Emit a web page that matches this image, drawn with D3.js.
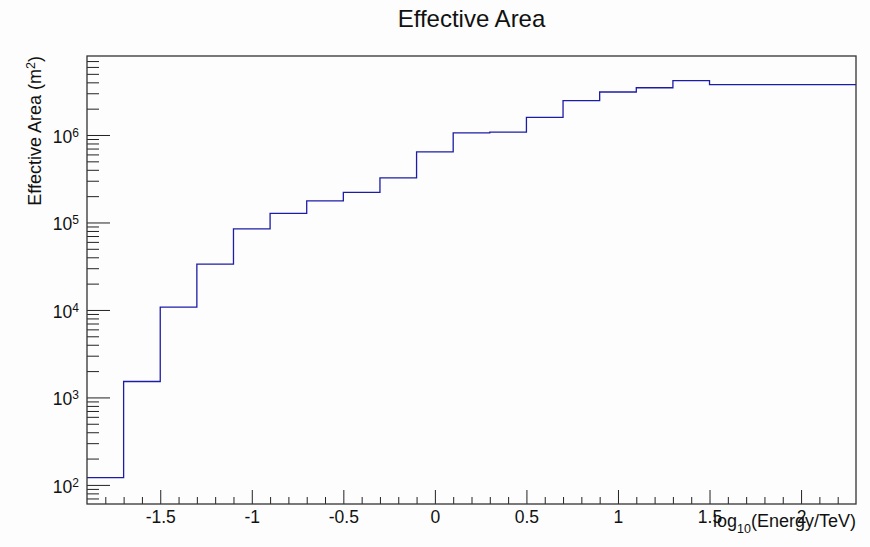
<!DOCTYPE html>
<html>
<head>
<meta charset="utf-8">
<script src="https://cdn.jsdelivr.net/npm/d3@7"></script>
<style>
  body { margin: 0; background: #fdfdfd; }
  svg { display: block; font-family: "Liberation Sans", Arial, Helvetica, sans-serif; }
  .axis path { stroke: none; }
  .axis line { stroke: #222; stroke-width: 1; }
</style>
</head>
<body>
<div id="chart"></div>
<script>
// bin edges in log10(E/TeV)
var binEdges = [-1.9, -1.7, -1.5, -1.3, -1.1, -0.9, -0.7, -0.5, -0.3, -0.1, 0.1,
                0.3, 0.5, 0.7, 0.9, 1.1, 1.3, 1.5, 1.7, 1.9, 2.1, 2.3];
// effective area per bin, m^2
var areaValues = [121, 1520, 10800, 33500, 84300, 127000, 177000, 221000, 323000, 643000,
                  1060000, 1080000, 1590000, 2470000, 3100000, 3470000, 4180000,
                  3760000, 3760000, 3760000, 3760000];
var xMajorTicks = [-1.5, -1, -0.5, 0, 0.5, 1, 1.5, 2];
var xTickLabels = ["-1.5", "-1", "-0.5", "0", "0.5", "1", "1.5", "2"];
var yDecades = [100, 1000, 10000, 100000, 1000000];
var yExponents = ["2", "3", "4", "5", "6"];

var w = 870, h = 547;
var padL = 87, padR = 856, padT = 56, padB = 504;

var svg = d3.select("#chart").append("svg")
  .attr("width", w)
  .attr("height", h);

var x = d3.scaleLinear().domain([-1.9, 2.3]).range([padL, padR]);
var y = d3.scaleLog().domain([60.5, 8.0e6]).range([padB, padT]);

// minor ticks
var xMinor = d3.range(-18, 23).map(function(i) { return i / 10; })
  .filter(function(v) { return xMajorTicks.indexOf(v) < 0; });
var yMinor = [];
[10, 100, 1000, 10000, 100000, 1000000].forEach(function(d) {
  for (var k = 2; k <= 9; k++) {
    var v = d * k;
    if (v > 60.5 && v < 7.9e6) yMinor.push(v);
  }
});

// x axis minor
svg.append("g")
  .attr("class", "axis")
  .attr("transform", "translate(0," + padB + ")")
  .call(d3.axisBottom(x).tickValues(xMinor).tickSize(-7).tickFormat(""));

// x axis major
svg.append("g")
  .attr("class", "axis")
  .attr("transform", "translate(0," + padB + ")")
  .call(d3.axisBottom(x).tickValues(xMajorTicks).tickSize(-14).tickPadding(7)
    .tickFormat(function(d, i) { return xTickLabels[i]; }))
  .selectAll("text")
  .attr("fill", "#111")
  .style("font-size", "17.5px");

// y axis minor
svg.append("g")
  .attr("class", "axis")
  .attr("transform", "translate(" + padL + ",0)")
  .call(d3.axisLeft(y).tickValues(yMinor).tickSize(-12).tickFormat(""));

// y axis major
svg.append("g")
  .attr("class", "axis")
  .attr("transform", "translate(" + padL + ",0)")
  .call(d3.axisLeft(y).tickValues(yDecades).tickSize(-23).tickFormat(""));

// y labels: 10 with superscript
var yLab = svg.append("g").selectAll("text")
  .data(yDecades)
  .enter()
  .append("text")
  .attr("x", 79)
  .attr("y", function(d) { return y(d) + 8; })
  .attr("text-anchor", "end")
  .attr("fill", "#111")
  .style("font-size", "17.5px");
yLab.append("tspan").text("10");
yLab.append("tspan")
  .attr("dy", -6)
  .style("font-size", "12px")
  .text(function(d, i) { return yExponents[i]; });

// histogram step line
var stepPts = [];
areaValues.forEach(function(v, i) {
  stepPts.push([binEdges[i], v]);
  stepPts.push([binEdges[i + 1], v]);
});
svg.append("path")
  .datum(stepPts)
  .attr("fill", "none")
  .attr("stroke", "#1c1ca6")
  .attr("stroke-width", 1.3)
  .attr("d", d3.line()
    .x(function(d) { return x(d[0]); })
    .y(function(d) { return y(d[1]); }));

// frame
svg.append("rect")
  .attr("x", padL)
  .attr("y", padT)
  .attr("width", padR - padL)
  .attr("height", padB - padT)
  .attr("fill", "none")
  .attr("stroke", "#333")
  .attr("stroke-width", 1.3);

// title
svg.append("text")
  .attr("x", (padL + padR) / 2)
  .attr("y", 27)
  .attr("text-anchor", "middle")
  .attr("fill", "#111")
  .style("font-size", "24px")
  .text("Effective Area");

// x axis title
var xt = svg.append("text")
  .attr("x", padR)
  .attr("y", 527)
  .attr("text-anchor", "end")
  .attr("fill", "#111")
  .style("font-size", "18px");
xt.append("tspan").text("log");
xt.append("tspan").attr("dy", 6).style("font-size", "12.5px").text("10");
xt.append("tspan").attr("dy", -6).text("(Energy/TeV)");

// y axis title
var yt = svg.append("text")
  .attr("transform", "translate(41," + padT + ") rotate(-90)")
  .attr("text-anchor", "end")
  .attr("fill", "#111")
  .style("font-size", "18px");
yt.append("tspan").text("Effective Area (m");
yt.append("tspan").attr("dy", -6).style("font-size", "12.5px").text("2");
yt.append("tspan").attr("dy", 6).text(")");
</script>
</body>
</html>
